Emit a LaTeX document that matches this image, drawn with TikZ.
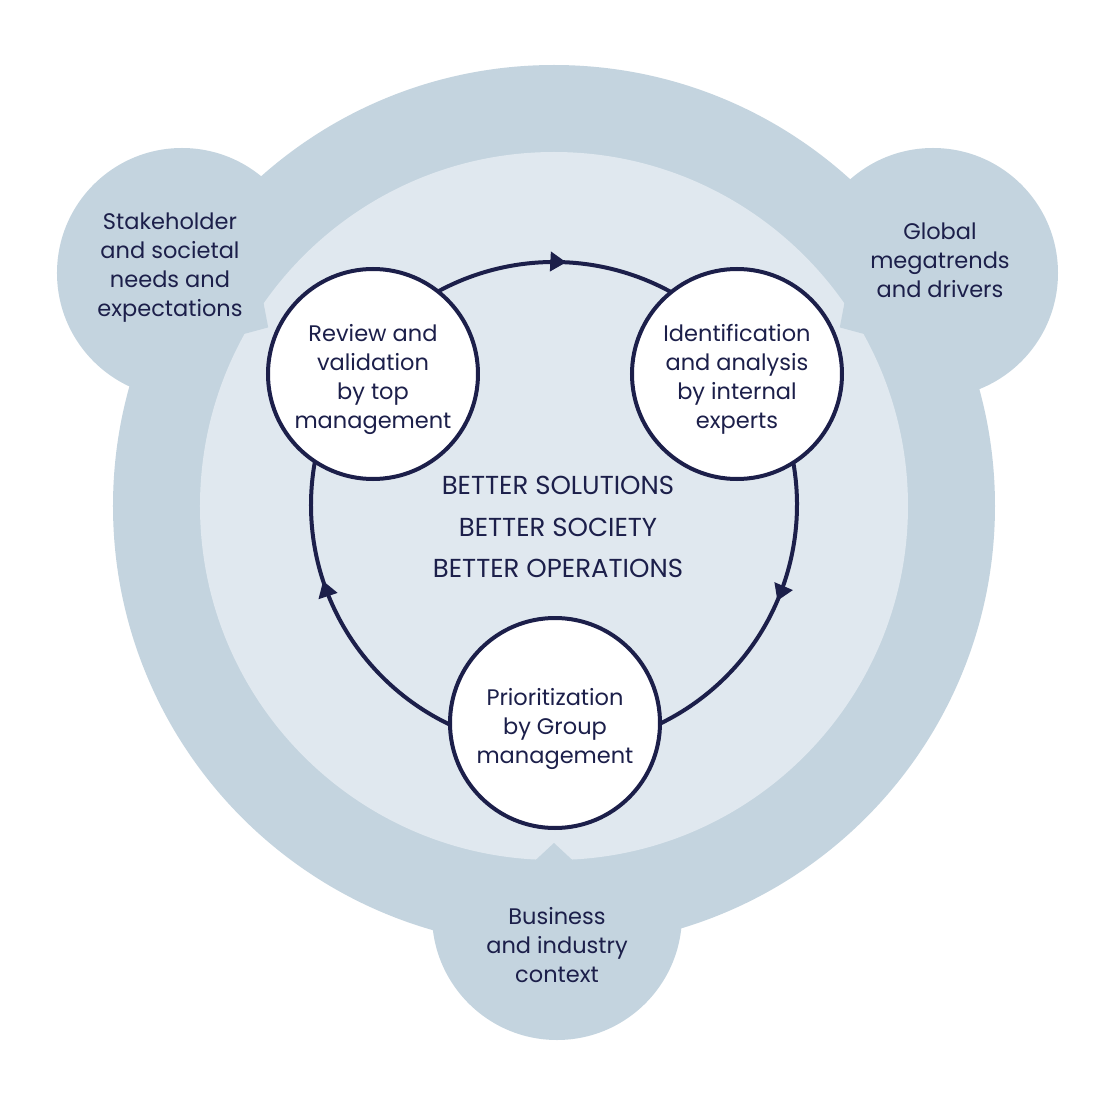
\documentclass[tikz,border=0pt]{standalone}
\usepackage{fontspec}
\setmainfont{Poppins}
\usetikzlibrary{arrows.meta,decorations.markings}
\definecolor{ringc}{HTML}{C4D4DF}
\definecolor{innerc}{HTML}{E0E8EF}
\definecolor{navy}{HTML}{1C1F4A}
\begin{document}
\begin{tikzpicture}[x=1pt,y=1pt,
  txt/.style={font=\fontsize{22.5}{29}\selectfont, text=navy, align=center, inner sep=0pt},
  stage/.style={circle, draw=navy, line width=4pt, fill=white, minimum size=210pt, inner sep=0pt},
  cyc/.style={draw=navy, line width=4pt},
  tipmark/.style={postaction=decorate, decoration={markings,
    mark=at position #1 with {\arrow{Triangle[length=16pt,width=19pt]}}}},
  ]
\useasboundingbox (-554,-597) rectangle (552,506);
\fill[white] (-554,-597) rectangle (552,506);
% outer ring and bubbles
\fill[ringc] (0,0) circle[radius=441];
\fill[ringc] (-372,233) circle[radius=125];
\fill[ringc] (379,233) circle[radius=125];
\fill[ringc] (3,-409) circle[radius=125];
% inner disc
\fill[innerc] (0,0) circle[radius=354];
% notches
\foreach \t in {148,32,270} {
  \fill[ringc] ({\t-3.2}:356) -- (\t:337) -- ({\t+3.2}:356) -- cycle;
}
% cycle
\coordinate (C) at (0,1);
\draw[cyc, tipmark=0.527] (C) ++(144:243) coordinate (aL) arc[start angle=144, end angle=36, radius=243] coordinate (aR);
\draw[cyc, tipmark=0.47] (aR) arc[start angle=36, end angle=-90, radius=243] coordinate (aB);
\draw[cyc, tipmark=0.57] (aB) arc[start angle=-90, end angle=-216, radius=243];
% stages
\node[stage] (L) at (-181,132) {};
\node[stage] (R) at (183,132) {};
\node[stage] (B) at (1,-217) {};
\node[txt] (Lt) at ([yshift=-5pt]L.center) {Review and\\validation\\by top\\management};
\node[txt] (Rt) at ([yshift=-5pt]R.center) {Identification\\and analysis\\by internal\\experts};
\node[txt] (Bt) at ([yshift=-6pt]B.center) {Prioritization\\by Group\\management};
% bubble texts
\node[txt] (t1) at (-384,238.5) {Stakeholder\\and societal\\needs and\\expectations};
\node[txt] (t2) at (386,246) {Global\\megatrends\\and drivers};
\node[txt] (t3) at (3,-439) {Business\\and industry\\context};
\node[txt, font=\fontsize{26}{41.5}\selectfont] (core) at (4,-21) {BETTER SOLUTIONS\\BETTER SOCIETY\\BETTER OPERATIONS};
\end{tikzpicture}
\end{document}
